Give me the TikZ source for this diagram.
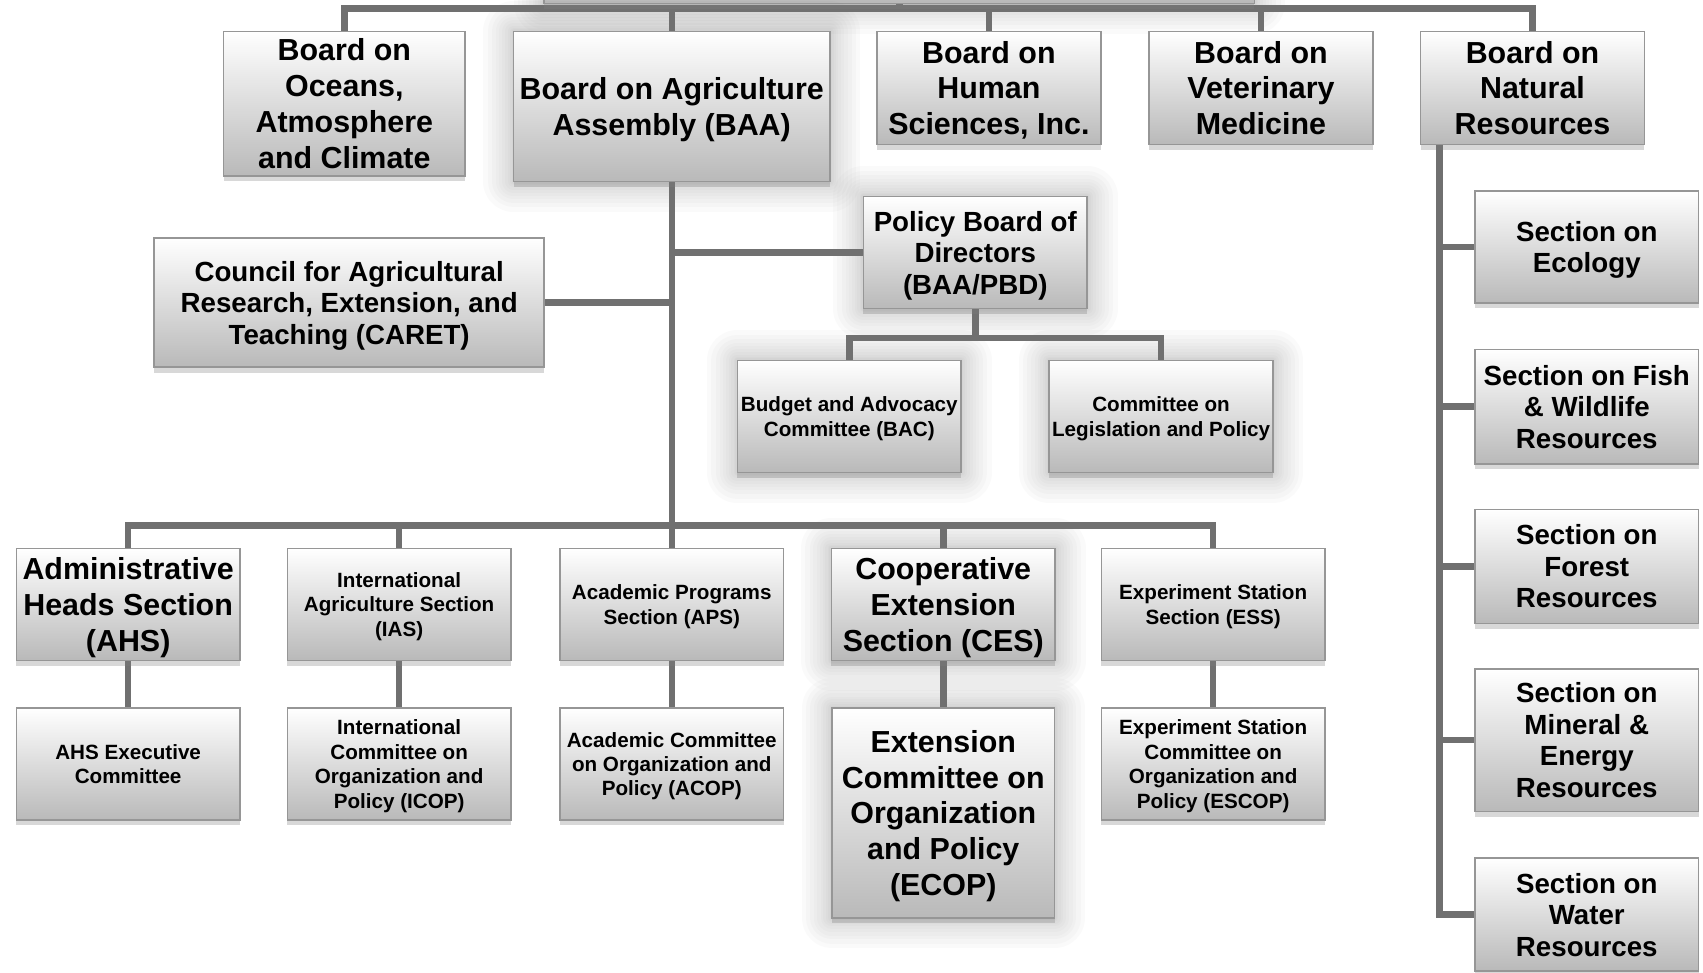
\documentclass[tikz,border=0pt]{standalone}
\usepackage{fontspec}
\setmainfont{Liberation Sans}
\usetikzlibrary{shadows,backgrounds}
\definecolor{connc}{RGB}{112,112,112}
\definecolor{boxedge}{RGB}{150,150,150}
\definecolor{boxbot}{RGB}{185,185,185}
\tikzset{
  box/.style={draw=boxedge, line width=1.4pt, top color=white, bottom color=boxbot,
    inner sep=0pt, align=center, text=black, text depth=0pt,
    drop shadow={shadow xshift=0pt, shadow yshift=-5pt, opacity=.3, fill=gray}},
  gl/.style={preaction={draw=gray, line width=#1, opacity=.035, line join=round}},
  glow/.style={gl=56pt, gl=48pt, gl=40pt, gl=33pt, gl=27pt, gl=21pt, gl=16pt, gl=11pt, gl=7pt, gl=4pt},
  big/.style={font=\fontsize{28}{33}\selectfont\bfseries},
  med/.style={font=\fontsize{25.5}{29}\selectfont\bfseries},
  small/.style={font=\fontsize{19}{22.5}\selectfont\bfseries},
  std/.style={minimum width=206pt, minimum height=103pt},
  conn/.style={draw=connc, line width=6pt},
}
\begin{document}
\begin{tikzpicture}[x=1pt,y=-1pt]
\useasboundingbox (0,0) rectangle (1568,895);
% top (cut off) box
\node[box,glow,minimum width=654pt,minimum height=126pt] (top) at (828,-60) {};
% top row
\node[box,big,minimum width=222pt,minimum height=133pt] (oceans) at (317,95.5) {Board on\\Oceans,\\Atmosphere\\and Climate};
\node[box,glow,big,minimum width=291pt,minimum height=138pt] (baa) at (618.5,98) {Board on Agriculture\\Assembly (BAA)};
\node[box,big,std,minimum height=104pt] (human) at (910.5,81) {Board on\\Human\\Sciences, Inc.};
\node[box,big,std,minimum height=104pt] (vet) at (1161,81) {Board on\\Veterinary\\Medicine};
\node[box,big,std,minimum height=104pt] (natres) at (1411,81) {Board on\\Natural\\Resources};
% middle
\node[box,med,minimum width=359pt,minimum height=119pt] (caret) at (321.5,278.5) {Council for Agricultural\\Research, Extension, and\\Teaching (CARET)};
\node[box,glow,med,std] (pbd) at (898,232.5) {Policy Board of\\Directors\\(BAA/PBD)};
\node[box,glow,small,std] (bac) at (782,383.5) {Budget and Advocacy\\Committee (BAC)};
\node[box,glow,small,std] (leg) at (1069,383.5) {Committee on\\Legislation and Policy};
% sections
\node[box,big,std] (ahs) at (118,556.5) {Administrative\\Heads Section\\(AHS)};
\node[box,small,std] (ias) at (367.5,556.5) {International\\Agriculture Section\\(IAS)};
\node[box,small,std] (aps) at (618.5,556.5) {Academic Programs\\Section (APS)};
\node[box,glow,big,std] (ces) at (868.5,556.5) {Cooperative\\Extension\\Section (CES)};
\node[box,small,std] (ess) at (1117,556.5) {Experiment Station\\Section (ESS)};
% committees
\node[box,small,std] (ahsx) at (118,703.5) {AHS Executive\\Committee};
\node[box,small,std] (icop) at (367.5,703.5) {International\\Committee on\\Organization and\\Policy (ICOP)};
\node[box,small,std] (acop) at (618.5,703.5) {Academic Committee\\on Organization and\\Policy (ACOP)};
\node[box,glow,big,minimum width=205pt,minimum height=193pt] (ecop) at (868.5,748.5) {Extension\\Committee on\\Organization\\and Policy\\(ECOP)};
\node[box,small,std] (escop) at (1117,703.5) {Experiment Station\\Committee on\\Organization and\\Policy (ESCOP)};
% natural resources sections
\node[box,med,std] (eco) at (1461,227.5) {Section on\\Ecology};
\node[box,med,std,minimum height=105pt] (fish) at (1461,374.5) {Section on Fish\\\& Wildlife\\Resources};
\node[box,med,std,minimum height=105pt] (forest) at (1461,521.5) {Section on\\Forest\\Resources};
\node[box,med,std,minimum height=131pt] (mineral) at (1461,681.5) {Section on\\Mineral \&\\Energy\\Resources};
\node[box,med,std,minimum height=104pt] (water) at (1461,842) {Section on\\Water\\Resources};

\begin{scope}[on background layer]
\fill[white] (0,0) rectangle (1568,895);
\coordinate (bus1) at (828,8);
\draw[conn] (top.south) -- (bus1);
\draw[conn] (oceans.north) |- (bus1) -| (natres.north);
\foreach \n in {baa,human,vet} \draw[conn] (\n.north) -- (\n.north|-bus1);
\coordinate (bus2) at (618.5,484);
\draw[conn] (baa.south) -- (bus2);
\draw[conn] (ahs.north) |- (bus2) -| (ess.north);
\foreach \n in {ias,aps,ces} \draw[conn] (\n.north) -- (\n.north|-bus2);
\draw[conn] (pbd.west) -- (pbd.west-|baa.south);
\draw[conn] (caret.east) -- (caret.east-|baa.south);
\coordinate (bus3) at (898,311);
\draw[conn] (pbd.south) -- (bus3);
\draw[conn] (bac.north) |- (bus3) -| (leg.north);
\draw[conn] (ahs.south) -- (ahsx.north);
\draw[conn] (ias.south) -- (icop.north);
\draw[conn] (aps.south) -- (acop.north);
\draw[conn] (ces.south) -- (ecop.north);
\draw[conn] (ess.south) -- (escop.north);
\coordinate (nr) at ([xshift=18pt]natres.south west);
\draw[conn] (nr) |- (water.west);
\foreach \n in {eco,fish,forest,mineral} \draw[conn] (\n.west) -- (\n.west-|nr);
\end{scope}
\end{tikzpicture}
\end{document}
